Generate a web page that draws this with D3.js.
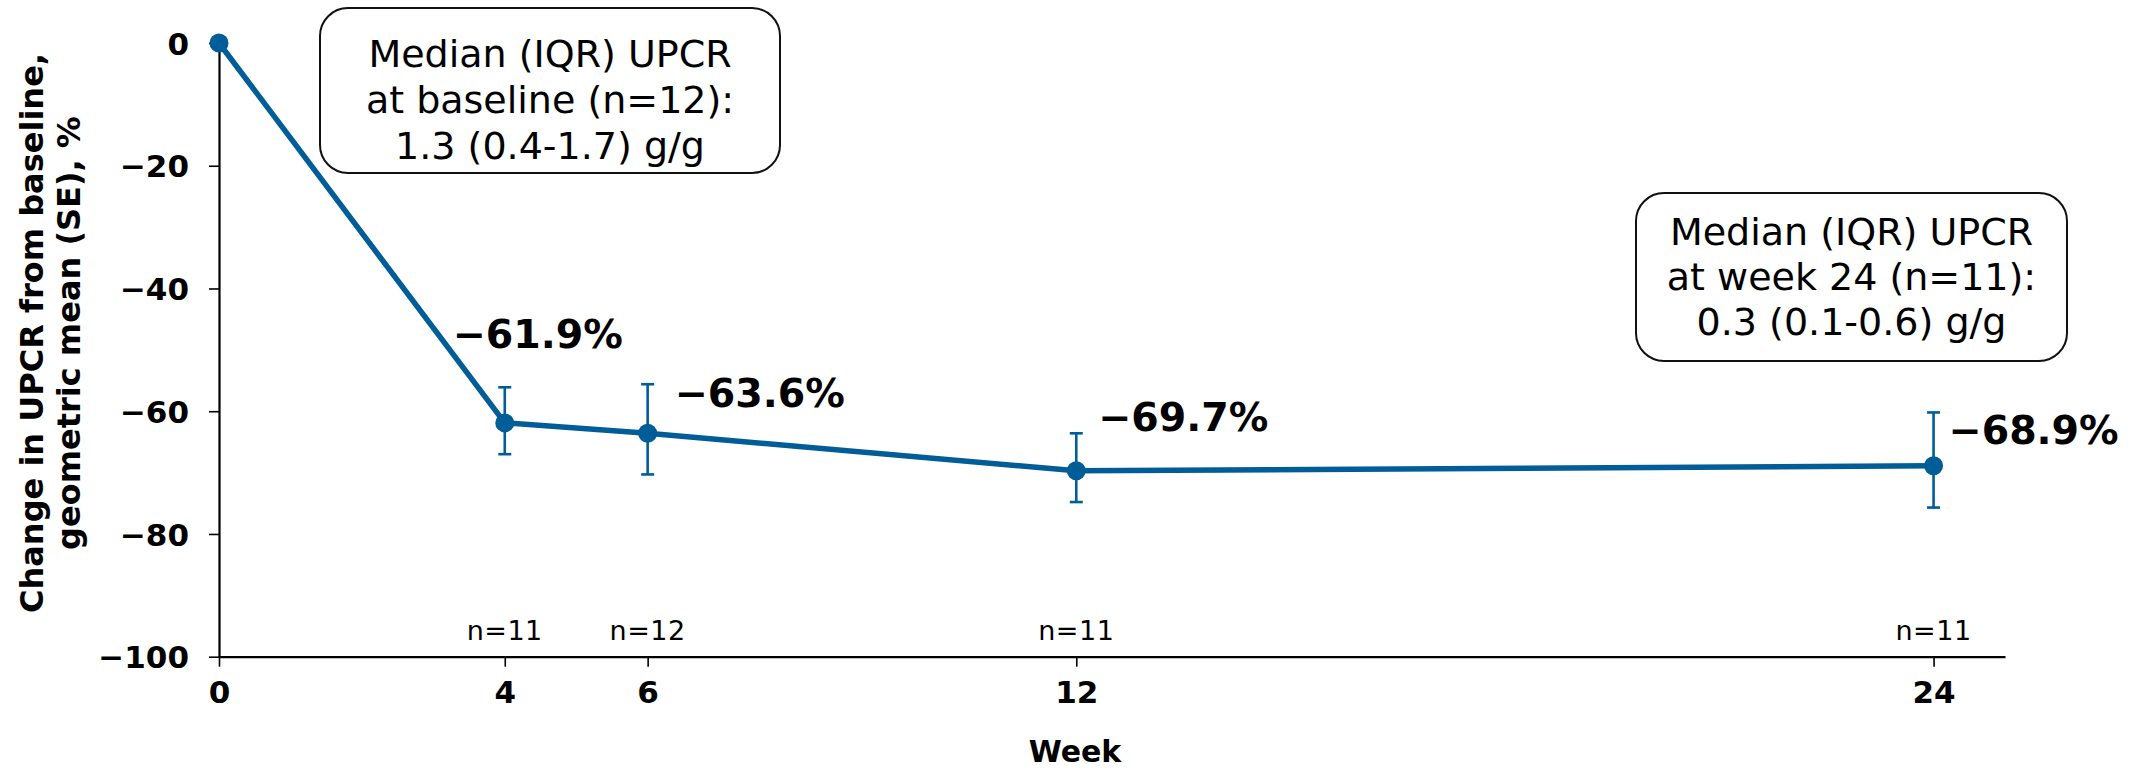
<!DOCTYPE html>
<html>
<head>
<meta charset="utf-8">
<script src="https://cdn.jsdelivr.net/npm/d3@7"></script>
<style>
  html, body { margin: 0; padding: 0; background: #fff; }
  svg { display: block; font-family: "DejaVu Sans", Verdana, sans-serif; }
</style>
</head>
<body>
<svg id="chart" width="2141" height="771"></svg>
<script>
// Geometric mean change in UPCR from baseline, by study week
const weeks = [0, 4, 6, 12, 24];
const changePct = [0, -61.9, -63.6, -69.7, -68.9];
const seUpper = [null, -56.1, -55.6, -63.6, -60.2];
const seLower = [null, -67.0, -70.3, -74.8, -75.7];
const nPatients = [null, 11, 12, 11, 11];

const xTickValues = [0, 4, 6, 12, 24];
const yTickValues = [0, -20, -40, -60, -80, -100];

const yTitleLines = ["Change in UPCR from baseline,", "geometric mean (SE), %"];
const xTitle = "Week";
const baselineBoxLines = ["Median (IQR) UPCR", "at baseline (n=12):", "1.3 (0.4-1.7) g/g"];
const week24BoxLines = ["Median (IQR) UPCR", "at week 24 (n=11):", "0.3 (0.1-0.6) g/g"];

// ---- layout ----
const W = 2141, H = 771;
const plot = { left: 219, right: 2005, top: 43, bottom: 656.7 };
const blue = "#005d98";

const svg = d3.select("#chart");

const x = d3.scaleLinear().domain([0, 25]).range([plot.left, plot.right]);
const y = d3.scaleLinear().domain([-100, 0]).range([plot.bottom, plot.top]);

const points = weeks.map((w, i) => ({
  week: w, value: changePct[i], hi: seUpper[i], lo: seLower[i], n: nPatients[i]
}));

// ---- axes ----
const xAxis = d3.axisBottom(x)
  .tickValues(xTickValues)
  .tickSize(10).tickSizeOuter(0).tickPadding(14)
  .tickFormat(d3.format("d"));
const yAxis = d3.axisLeft(y)
  .tickValues(yTickValues)
  .tickSize(10).tickSizeOuter(0).tickPadding(20)
  .tickFormat(d3.format("d"));

const gx = svg.append("g").attr("transform", `translate(0,${plot.bottom})`).call(xAxis);
const gy = svg.append("g").attr("transform", `translate(${plot.left},0)`).call(yAxis);

[gx, gy].forEach(g => {
  g.select(".domain").attr("stroke", "#000").attr("stroke-width", 2.2);
  g.selectAll(".tick line").attr("stroke", "#000").attr("stroke-width", 1.6);
  g.selectAll(".tick text")
    .attr("fill", "#000")
    .style("font-family", "'DejaVu Sans', Verdana, sans-serif")
    .style("font-size", "31px")
    .style("font-weight", "bold");
});
gx.selectAll(".tick text").attr("dy", "0.71em");
gy.selectAll(".tick text").attr("dy", "0.36em");

// axis titles
svg.append("text")
  .attr("x", 1075).attr("y", 762)
  .attr("text-anchor", "middle")
  .style("font-size", "30px").style("font-weight", "bold")
  .text(xTitle);

const yTitle = svg.append("text")
  .attr("transform", "translate(0,333) rotate(-90)")
  .attr("text-anchor", "middle")
  .style("font-size", "32px").style("font-weight", "bold");
yTitleLines.forEach((t, i) => {
  yTitle.append("tspan").attr("x", 0).attr("y", 43 + i * 37).text(t);
});

// ---- series line ----
const line = d3.line().x(d => x(d.week)).y(d => y(d.value));
svg.append("path")
  .datum(points)
  .attr("d", line)
  .attr("fill", "none")
  .attr("stroke", blue)
  .attr("stroke-width", 5.5)
  .attr("stroke-linejoin", "round");

// ---- SE error bars ----
const capHalf = 6.5;
const bars = svg.append("g").attr("stroke", blue).attr("stroke-width", 2.6);
points.filter(d => d.hi !== null).forEach(d => {
  const cx = x(d.week);
  bars.append("line").attr("x1", cx).attr("x2", cx).attr("y1", y(d.hi)).attr("y2", y(d.lo));
  bars.append("line").attr("x1", cx - capHalf).attr("x2", cx + capHalf).attr("y1", y(d.hi)).attr("y2", y(d.hi));
  bars.append("line").attr("x1", cx - capHalf).attr("x2", cx + capHalf).attr("y1", y(d.lo)).attr("y2", y(d.lo));
});

// ---- markers ----
svg.append("g").selectAll("circle")
  .data(points)
  .join("circle")
  .attr("cx", d => x(d.week))
  .attr("cy", d => y(d.value))
  .attr("r", 9.5)
  .attr("fill", blue);

// ---- value labels ----
const pct = v => d3.format(".1f")(v) + "%";
const labelOffsets = [null, [-52, -75], [27, -26], [22, -40], [15, -22]];
svg.append("g").selectAll("text")
  .data(points.filter((d, i) => labelOffsets[i]))
  .join("text")
  .attr("x", d => x(d.week) + labelOffsets[weeks.indexOf(d.week)][0])
  .attr("y", d => y(d.value) + labelOffsets[weeks.indexOf(d.week)][1])
  .style("font-size", "39.5px").style("font-weight", "bold")
  .text(d => pct(d.value));

// ---- patient counts above the x-axis ----
svg.append("g").selectAll("text")
  .data(points.filter(d => d.n !== null))
  .join("text")
  .attr("x", d => x(d.week))
  .attr("y", plot.bottom - 17)
  .attr("text-anchor", "middle")
  .style("font-size", "27px")
  .style("letter-spacing", "0.5px")
  .text(d => "n=" + d.n);

// ---- annotation boxes ----
function noteBox(lines, bx, by, bw, bh, firstBaseline, lineStep) {
  const g = svg.append("g");
  g.append("rect")
    .attr("x", bx).attr("y", by).attr("width", bw).attr("height", bh)
    .attr("rx", 28).attr("ry", 28)
    .attr("fill", "#fff").attr("stroke", "#111").attr("stroke-width", 2);
  lines.forEach((t, i) => {
    g.append("text")
      .attr("x", bx + bw / 2)
      .attr("y", by + firstBaseline + i * lineStep)
      .attr("text-anchor", "middle")
      .style("font-size", "38px")
      .attr("fill", "#000")
      .text(t);
  });
}
noteBox(baselineBoxLines, 320, 8, 460, 165, 58.5, 46.3);
noteBox(week24BoxLines, 1636, 193, 431, 168, 52, 45);
</script>
</body>
</html>
